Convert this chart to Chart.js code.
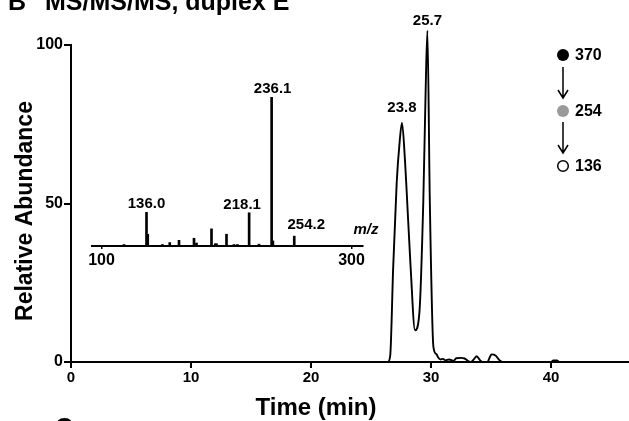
<!DOCTYPE html>
<html><head><meta charset="utf-8">
<script src="https://cdn.jsdelivr.net/npm/chart.js@4/dist/chart.umd.min.js"></script>
<style>
html,body{margin:0;padding:0;background:#fff;overflow:hidden}
#wrap{position:relative;width:629px;height:421px}
canvas{position:absolute;left:0;top:0}
</style></head>
<body><div id="wrap"><canvas id="main" width="629" height="421"></canvas><canvas id="inset" width="629" height="421"></canvas></div>
<script>
// ---- Main chromatogram data ----
const times = [0, 26.4, 26.6, 26.85, 27.14, 27.4, 27.58, 27.83, 27.97, 28.3, 28.67, 29.03, 29.36, 29.55, 29.7, 29.9, 30.2, 30.45, 30.6, 30.8, 31.0, 31.2, 31.5, 31.9, 32.1, 32.5, 32.8, 33.3, 33.6, 33.8, 34.1, 34.3, 34.7, 34.9, 35.05, 35.4, 35.7, 36.0, 40.0, 40.2, 40.5, 40.7, 46.5];
const abundance = [0, 0, 2, 30, 56.5, 70, 75.5, 63.7, 54, 30, 10, 15.4, 51, 85, 104.5, 51, 4.8, 2.5, 1.4, 0.8, 1.0, 0.5, 0.8, 0.4, 1.2, 1.3, 1.1, 0, 1.0, 1.8, 0.5, 0, 0, 1.5, 2.4, 2.0, 0.6, 0, 0, 0.5, 0.5, 0, 0];
const xTickValues = [0, 10, 20, 30, 40];
const yTickValues = [0, 50, 100];
const peakLabels = ['23.8', '25.7'];
const peakTimes = [27.58, 29.7];
const peakValues = [75.5, 104.5];

// ---- Inset MS3 spectrum data ----
const mzValues = [118, 136.0, 137.0, 148.7, 154.6, 162, 174, 176, 188, 191, 192, 200, 206, 208.8, 218.1, 226, 236.1, 237.1, 254.2];
const mzIntensity = [1, 22.6, 7.9, 1, 2.3, 3.8, 5.2, 2, 11.5, 1.5, 1.5, 7.9, 1, 1, 22.3, 1.2, 100, 3.4, 6.6];
const mzLabelValues = [136.0, 218.1, 236.1, 254.2];
const mzLabelIntensity = [22.6, 22.3, 100, 6.6];
const mzLabels = ['136.0', '218.1', '236.1', '254.2'];
const insetTickValues = [100, 300];

// ---- Legend (MS stages) ----
const stageLabels = ['370', '254', '136'];

const FONT = "'Liberation Sans', Arial, Helvetica, sans-serif";
Chart.defaults.font.family = FONT;
Chart.defaults.font.weight = 'bold';
Chart.defaults.color = '#000';

function setTicks(arr){ return s => { s.ticks = arr.map(v => ({value: v})); }; }

const mainText = {
  id: 'mainText',
  afterDraw(chart) {
    const ctx = chart.ctx, xs = chart.scales.x, ys = chart.scales.y;
    ctx.save();
    ctx.fillStyle = '#000';
    // title (cut at top)
    ctx.font = 'bold 25px ' + FONT;
    ctx.textAlign = 'left'; ctx.textBaseline = 'alphabetic';
    ctx.fillText('B', 8, 10);
    ctx.fillText('MS/MS/MS, duplex E', 45, 10);
    // panel letter below (cut at bottom)
    ctx.fillText('C', 55, 436);
    // axis titles
    ctx.font = 'bold 24px ' + FONT;
    ctx.textAlign = 'center';
    ctx.fillText('Time (min)', 316, 415);
    ctx.save();
    ctx.translate(32, 211);
    ctx.rotate(-Math.PI / 2);
    ctx.font = 'bold 23px ' + FONT;
    ctx.fillText('Relative Abundance', 0, 0);
    ctx.restore();
    // peak labels
    ctx.font = 'bold 15px ' + FONT;
    const dy = [11, 6];
    peakLabels.forEach((t, i) => {
      ctx.fillText(t, xs.getPixelForValue(peakTimes[i]), ys.getPixelForValue(peakValues[i]) - dy[i]);
    });
    // legend
    const lx = 563, ly = [55, 111, 166];
    ctx.lineWidth = 1.5; ctx.strokeStyle = '#000';
    ctx.beginPath(); ctx.arc(lx, ly[0], 6, 0, 2 * Math.PI); ctx.fillStyle = '#000'; ctx.fill();
    ctx.beginPath(); ctx.arc(lx, ly[1], 6, 0, 2 * Math.PI); ctx.fillStyle = '#9a9a9a'; ctx.fill();
    ctx.beginPath(); ctx.arc(lx, ly[2], 5.3, 0, 2 * Math.PI); ctx.fillStyle = '#fff'; ctx.fill(); ctx.stroke();
    [[67, 98], [122, 153]].forEach(([a, b]) => {
      ctx.beginPath(); ctx.moveTo(lx, a); ctx.lineTo(lx, b);
      ctx.moveTo(lx - 5, b - 8); ctx.lineTo(lx, b); ctx.lineTo(lx + 5, b - 8);
      ctx.stroke();
    });
    ctx.fillStyle = '#000';
    ctx.font = 'bold 16px ' + FONT;
    ctx.textAlign = 'left'; ctx.textBaseline = 'middle';
    stageLabels.forEach((t, i) => ctx.fillText(t, 575, ly[i] + 1));
    ctx.restore();
  }
};

new Chart(document.getElementById('main'), {
  type: 'line',
  data: { datasets: [{
    data: times.map((t, i) => ({x: t, y: abundance[i]})),
    borderColor: '#000', borderWidth: 1.9, pointRadius: 0,
    cubicInterpolationMode: 'monotone', fill: false, clip: false
  }]},
  options: {
    responsive: false, animation: false, devicePixelRatio: 1,
    layout: { padding: { left: 0, right: 0, top: 45, bottom: 0 } },
    plugins: { legend: { display: false }, tooltip: { enabled: false } },
    scales: {
      x: {
        type: 'linear', min: 0, max: 46.5,
        afterBuildTicks: setTicks(xTickValues),
        afterFit: s => { s.height = 59; },
        ticks: { font: { size: 15, weight: 'bold' }, color: '#000', padding: 1, maxRotation: 0, autoSkip: false },
        grid: { display: true, drawOnChartArea: false, drawTicks: true, tickLength: 6, color: '#000', lineWidth: 2 },
        border: { display: true, color: '#000', width: 2 }
      },
      y: {
        min: 0, max: 100,
        afterBuildTicks: setTicks(yTickValues),
        afterFit: s => { s.width = 71; },
        ticks: { font: { size: 16, weight: 'bold' }, color: '#000', padding: 1, autoSkip: false },
        grid: { display: true, drawOnChartArea: false, drawTicks: true, tickLength: 7, color: '#000', lineWidth: 2 },
        border: { display: true, color: '#000', width: 2 }
      }
    }
  },
  plugins: [mainText]
});

const insetText = {
  id: 'insetText',
  afterDraw(chart) {
    const ctx = chart.ctx, xs = chart.scales.x, ys = chart.scales.y;
    ctx.save();
    ctx.fillStyle = '#000';
    ctx.font = 'bold 15px ' + FONT;
    ctx.textAlign = 'center'; ctx.textBaseline = 'alphabetic';
    const dx = [0, -7, 1, 12], dy = [4, 4, 4, 7];
    mzLabels.forEach((t, i) => {
      ctx.fillText(t, xs.getPixelForValue(mzLabelValues[i]) + dx[i], ys.getPixelForValue(mzLabelIntensity[i]) - dy[i]);
    });
    ctx.font = 'italic bold 15px ' + FONT;
    ctx.fillText('m/z', 366, 234);
    ctx.restore();
  }
};

new Chart(document.getElementById('inset'), {
  type: 'bar',
  data: { datasets: [{
    data: mzValues.map((m, i) => ({x: m, y: mzIntensity[i]})),
    backgroundColor: '#000', borderWidth: 0, barThickness: 2
  }]},
  options: {
    responsive: false, animation: false, devicePixelRatio: 1,
    layout: { padding: { left: 92, right: 266, top: 97, bottom: 0 } },
    plugins: { legend: { display: false }, tooltip: { enabled: false } },
    scales: {
      x: {
        type: 'linear', min: 92.4, max: 309.2, offset: false,
        afterBuildTicks: setTicks(insetTickValues),
        afterFit: s => { s.height = 175; },
        ticks: { font: { size: 16, weight: 'bold' }, color: '#000', padding: 2, maxRotation: 0, autoSkip: false },
        grid: { display: true, offset: false, drawOnChartArea: false, drawTicks: true, tickLength: 3, color: '#000', lineWidth: 1.5 },
        border: { display: true, color: '#000', width: 2 }
      },
      y: { display: false, min: 0, max: 100 }
    }
  },
  plugins: [insetText]
});
</script>
</body></html>
